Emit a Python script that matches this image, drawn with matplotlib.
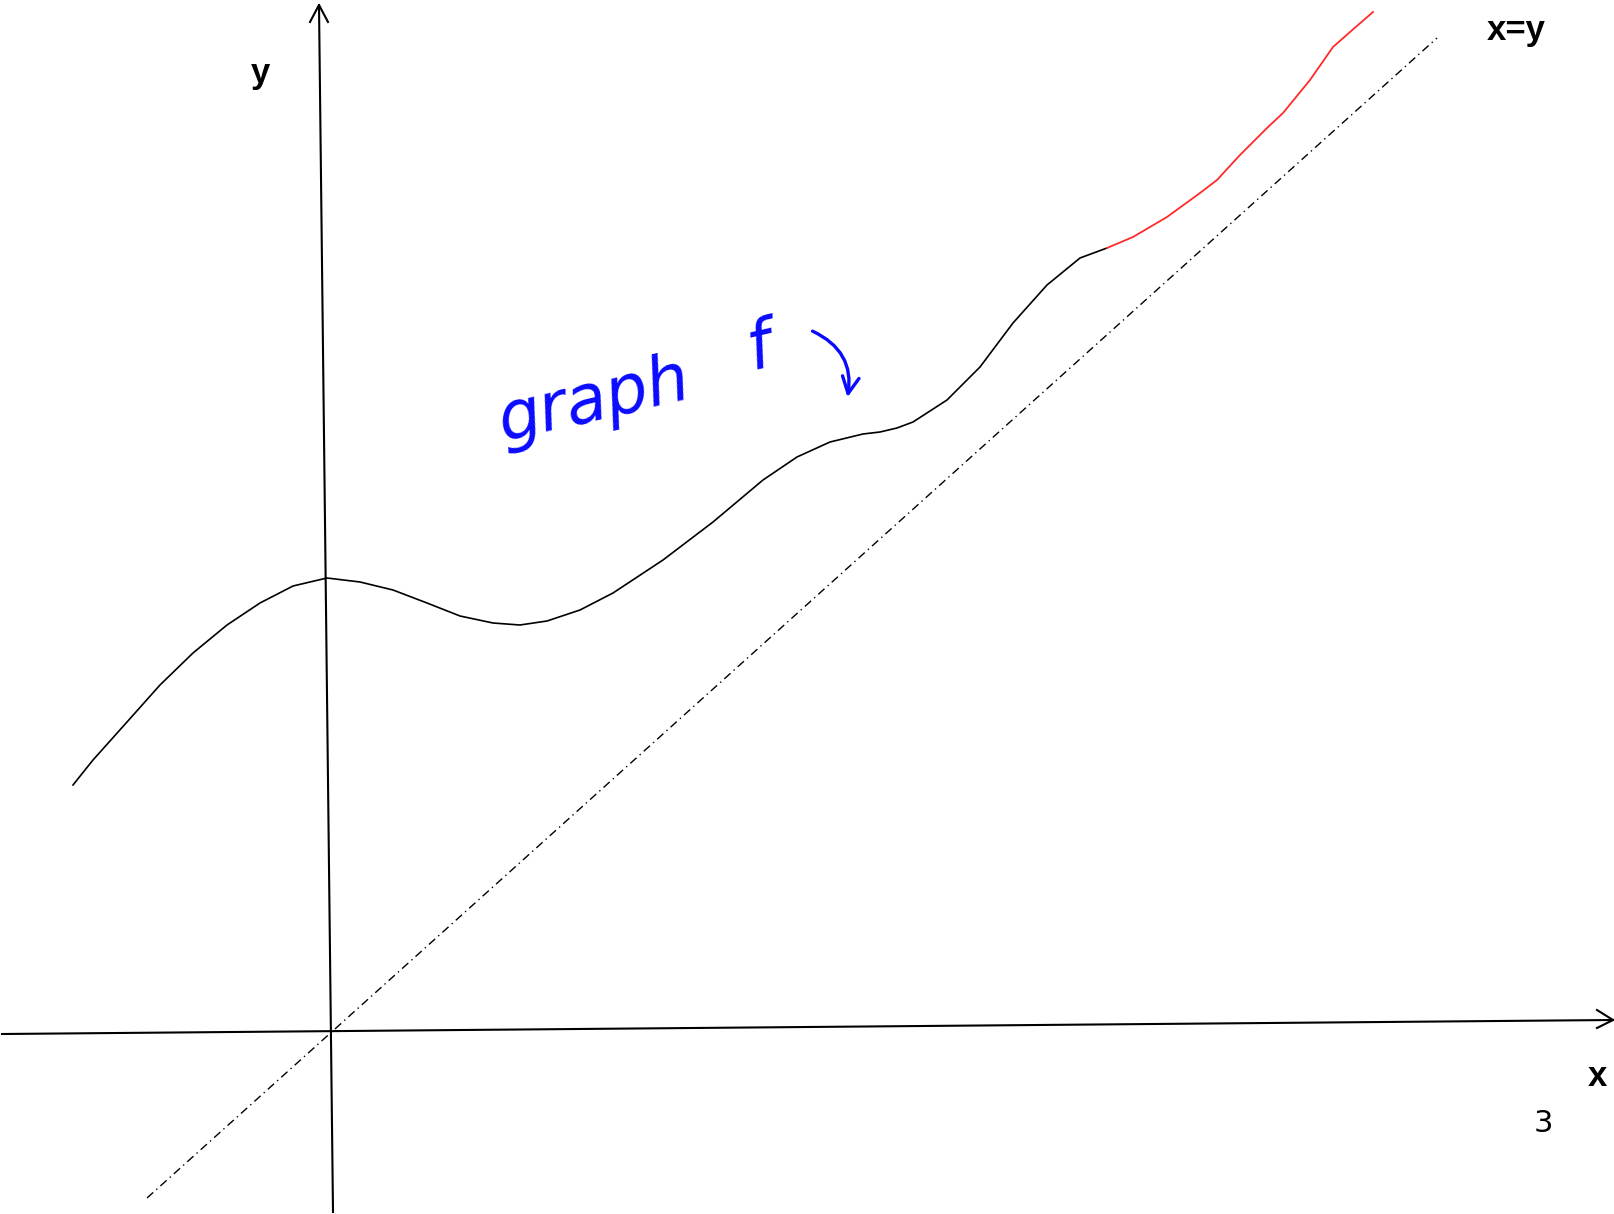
import matplotlib.pyplot as plt
from matplotlib.patches import FancyArrowPatch

# sketch coordinates: 1 unit = 100 px of the drawing, origin where the axes cross
curve_x = [-2.57, -2.37, -2.03, -1.70, -1.37, -1.03, -0.70, -0.37, -0.03, 0.30,
           0.63, 0.97, 1.30, 1.63, 1.90, 2.17, 2.50, 2.83, 3.33, 3.83,
           4.33, 4.67, 5.00, 5.33, 5.50, 5.67, 5.83, 6.17, 6.50, 6.83,
           7.17, 7.50, 7.77]
curve_y = [2.48, 2.73, 3.11, 3.48, 3.80, 4.08, 4.30, 4.47, 4.55, 4.51,
           4.43, 4.30, 4.17, 4.10, 4.08, 4.12, 4.23, 4.40, 4.73, 5.11,
           5.53, 5.76, 5.91, 5.99, 6.01, 6.05, 6.11, 6.33, 6.66, 7.10,
           7.48, 7.75, 7.85]

# red continuation
tail_x = [7.77, 8.03, 8.37, 8.70, 8.87, 9.10, 9.37, 9.53, 9.80, 10.03, 10.20, 10.43]
tail_y = [7.85, 7.96, 8.16, 8.40, 8.53, 8.78, 9.05, 9.20, 9.53, 9.86, 10.01, 10.21]

# hand-drawn axes (slightly tilted) and the x=y line
xaxis_x = [-3.28, 12.83]
xaxis_y = [-0.01, 0.13]
xhead_x = [12.67, 12.83, 12.67]
xhead_y = [0.23, 0.13, 0.05]
yaxis_x = [0.03, -0.11]
yaxis_y = [-1.79, 10.28]
yhead_x = [-0.20, -0.11, -0.02]
yhead_y = [10.11, 10.28, 10.11]
diag_x = [-1.83, 11.07]
diag_y = [-1.65, 9.95]

fig = plt.figure(figsize=(16.15, 12.14), dpi=100)
ax = fig.add_axes([0, 0, 1, 1])
ax.set_xlim(-3.30, 12.85)
ax.set_ylim(-1.81, 10.33)
ax.axis('off')

ax.plot(xaxis_x, xaxis_y, color='black', lw=1.5)
ax.plot(xhead_x, xhead_y, color='black', lw=1.5)
ax.plot(yaxis_x, yaxis_y, color='black', lw=1.5)
ax.plot(yhead_x, yhead_y, color='black', lw=1.5)
ax.plot(diag_x, diag_y, color='black', lw=1.0, linestyle=(0, (6, 3, 1, 3)))

ax.plot(curve_x, curve_y, color='black', lw=1.2, solid_joinstyle='round')
ax.plot(tail_x, tail_y, color='#ff2a2a', lw=1.3, solid_joinstyle='round')

ax.text(11.86, 9.93, 'x=y', fontsize=25, fontweight='bold', family='Liberation Sans',
        ha='center', va='baseline')
ax.text(-0.70, 9.50, 'y', fontsize=25, fontweight='bold', family='Liberation Sans',
        ha='center', va='baseline')
ax.text(12.67, -0.53, 'x', fontsize=25, fontweight='bold', family='Liberation Sans',
        ha='center', va='baseline')
ax.text(12.13, -0.99, '3', fontsize=22, family='DejaVu Sans', ha='center', va='baseline')

# handwritten note
ax.text(1.62, 5.92, 'graph', fontsize=48, color='#0a0aff', style='italic',
        rotation=13, ha='left', va='baseline', family='DejaVu Sans')
ax.text(4.30, 6.64, 'f', fontsize=48, color='#0a0aff', style='italic',
        rotation=13, ha='center', va='baseline', family='DejaVu Sans')
arrow = FancyArrowPatch((4.80, 7.03), (5.17, 6.33), arrowstyle='->',
                        connectionstyle='arc3,rad=-0.4', mutation_scale=30,
                        color='#0a0aff', lw=2.4)
ax.add_patch(arrow)

fig.savefig('out.png', dpi=100)
